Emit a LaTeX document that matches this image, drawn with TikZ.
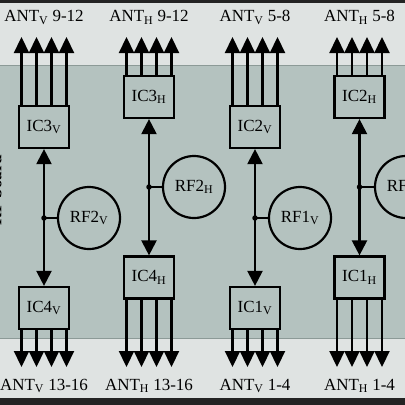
\documentclass[tikz,border=0pt]{standalone}
\usepackage{fontspec}
\setmainfont{Liberation Serif}
\usetikzlibrary{arrows.meta}
\definecolor{darkband}{HTML}{232323}
\definecolor{lightband}{HTML}{DFE3E2}
\definecolor{midband}{HTML}{B4C2BF}
\definecolor{edgeline}{HTML}{8C9A97}
\begin{document}
\begin{tikzpicture}[x=1pt,y=-1pt,
  font=\fontsize{17}{19}\selectfont,
  box/.style={draw,line width=2.2pt,minimum width=50pt,minimum height=42pt,inner sep=0pt},
  rf/.style={draw,circle,line width=2.2pt,minimum size=62pt,inner sep=0pt},
  arr/.style={line width=2.2pt,-{Triangle[width=15pt,length=16pt]}},
  darr/.style={line width=2.2pt,{Triangle[width=15pt,length=15pt]}-{Triangle[width=15pt,length=15pt]}},
  lbl/.style={inner sep=0pt,anchor=base},
  jdot/.style={circle,fill,inner sep=0pt,minimum size=5.5pt}]
\useasboundingbox (0,0) rectangle (405,405);
% bands
\fill[lightband] (0,0) rectangle (405,405);
\fill[midband] (0,65) rectangle (405,339);
\draw[edgeline,line width=1.5pt] (0,65.5) -- (405,65.5);
\draw[edgeline,line width=1.5pt] (0,338.5) -- (405,338.5);
\fill[darkband] (0,0) rectangle (405,3);
\fill[darkband] (0,398) rectangle (405,405);
% clipped side label
\node[rotate=90,anchor=base,inner sep=0pt,font=\fontsize{17}{19}\bfseries\selectfont] (side) at (1.5,190) {RF board};
% boxes
\node[box] (ic3v) at (44,127) {IC3\textsubscript{V}};
\node[box] (ic4v) at (44,308) {IC4\textsubscript{V}};
\node[box] (ic3h) at (149,97) {IC3\textsubscript{H}};
\node[box] (ic4h) at (149,277.5) {IC4\textsubscript{H}};
\node[box] (ic2v) at (255,127) {IC2\textsubscript{V}};
\node[box] (ic1v) at (255,308) {IC1\textsubscript{V}};
\node[box] (ic2h) at (359.5,97) {IC2\textsubscript{H}};
\node[box] (ic1h) at (359.5,277.5) {IC1\textsubscript{H}};
% RF circles
\node[rf] (rf2v) at (89,218) {RF2\textsubscript{V}};
\node[rf] (rf2h) at (194,187) {RF2\textsubscript{H}};
\node[rf] (rf1v) at (300,218) {RF1\textsubscript{V}};
\node[rf] (rf1h) at (406,187) {RF1\textsubscript{H}};
% junctions
\node[jdot] (j2v) at (44,218) {};
\node[jdot] (j2h) at (149,187) {};
\node[jdot] (j1v) at (255,218) {};
\node[jdot] (j1h) at (359.5,187) {};
% vertical links
\draw[darr] (ic3v.south) -- (ic4v.north);
\draw[darr] (ic3h.south) -- (ic4h.north);
\draw[darr] (ic2v.south) -- (ic1v.north);
\draw[darr] (ic2h.south) -- (ic1h.north);
\draw[line width=2.2pt] (j2v.center) -- (rf2v.west);
\draw[line width=2.2pt] (j2h.center) -- (rf2h.west);
\draw[line width=2.2pt] (j1v.center) -- (rf1v.west);
\draw[line width=2.2pt] (j1h.center) -- (rf1h.west);
% antenna tips
\coordinate (t1) at (44,37);
\coordinate (t2) at (149,37);
\coordinate (t3) at (255,37);
\coordinate (t4) at (359.5,37);
\coordinate (b1) at (44,367);
\coordinate (b2) at (149,367);
\coordinate (b3) at (255,367);
\coordinate (b4) at (359.5,367);
\foreach \d in {-22.5,-7.5,7.5,22.5}{
  \draw[arr] ([xshift=\d pt]ic3v.north) -- ([xshift=\d pt]t1);
  \draw[arr] ([xshift=\d pt]ic3h.north) -- ([xshift=\d pt]t2);
  \draw[arr] ([xshift=\d pt]ic2v.north) -- ([xshift=\d pt]t3);
  \draw[arr] ([xshift=\d pt]ic2h.north) -- ([xshift=\d pt]t4);
  \draw[arr] ([xshift=\d pt]ic4v.south) -- ([xshift=\d pt]b1);
  \draw[arr] ([xshift=\d pt]ic4h.south) -- ([xshift=\d pt]b2);
  \draw[arr] ([xshift=\d pt]ic1v.south) -- ([xshift=\d pt]b3);
  \draw[arr] ([xshift=\d pt]ic1h.south) -- ([xshift=\d pt]b4);
}
% labels
\node[lbl] (l1) at (44,21.5) {ANT\textsubscript{V} 9-12};
\node[lbl] (l2) at (149,21.5) {ANT\textsubscript{H} 9-12};
\node[lbl] (l3) at (255,21.5) {ANT\textsubscript{V} 5-8};
\node[lbl] (l4) at (359.5,21.5) {ANT\textsubscript{H} 5-8};
\node[lbl] (l5) at (44,390) {ANT\textsubscript{V} 13-16};
\node[lbl] (l6) at (149,390) {ANT\textsubscript{H} 13-16};
\node[lbl] (l7) at (255,390) {ANT\textsubscript{V} 1-4};
\node[lbl] (l8) at (359.5,390) {ANT\textsubscript{H} 1-4};
\end{tikzpicture}
\end{document}
